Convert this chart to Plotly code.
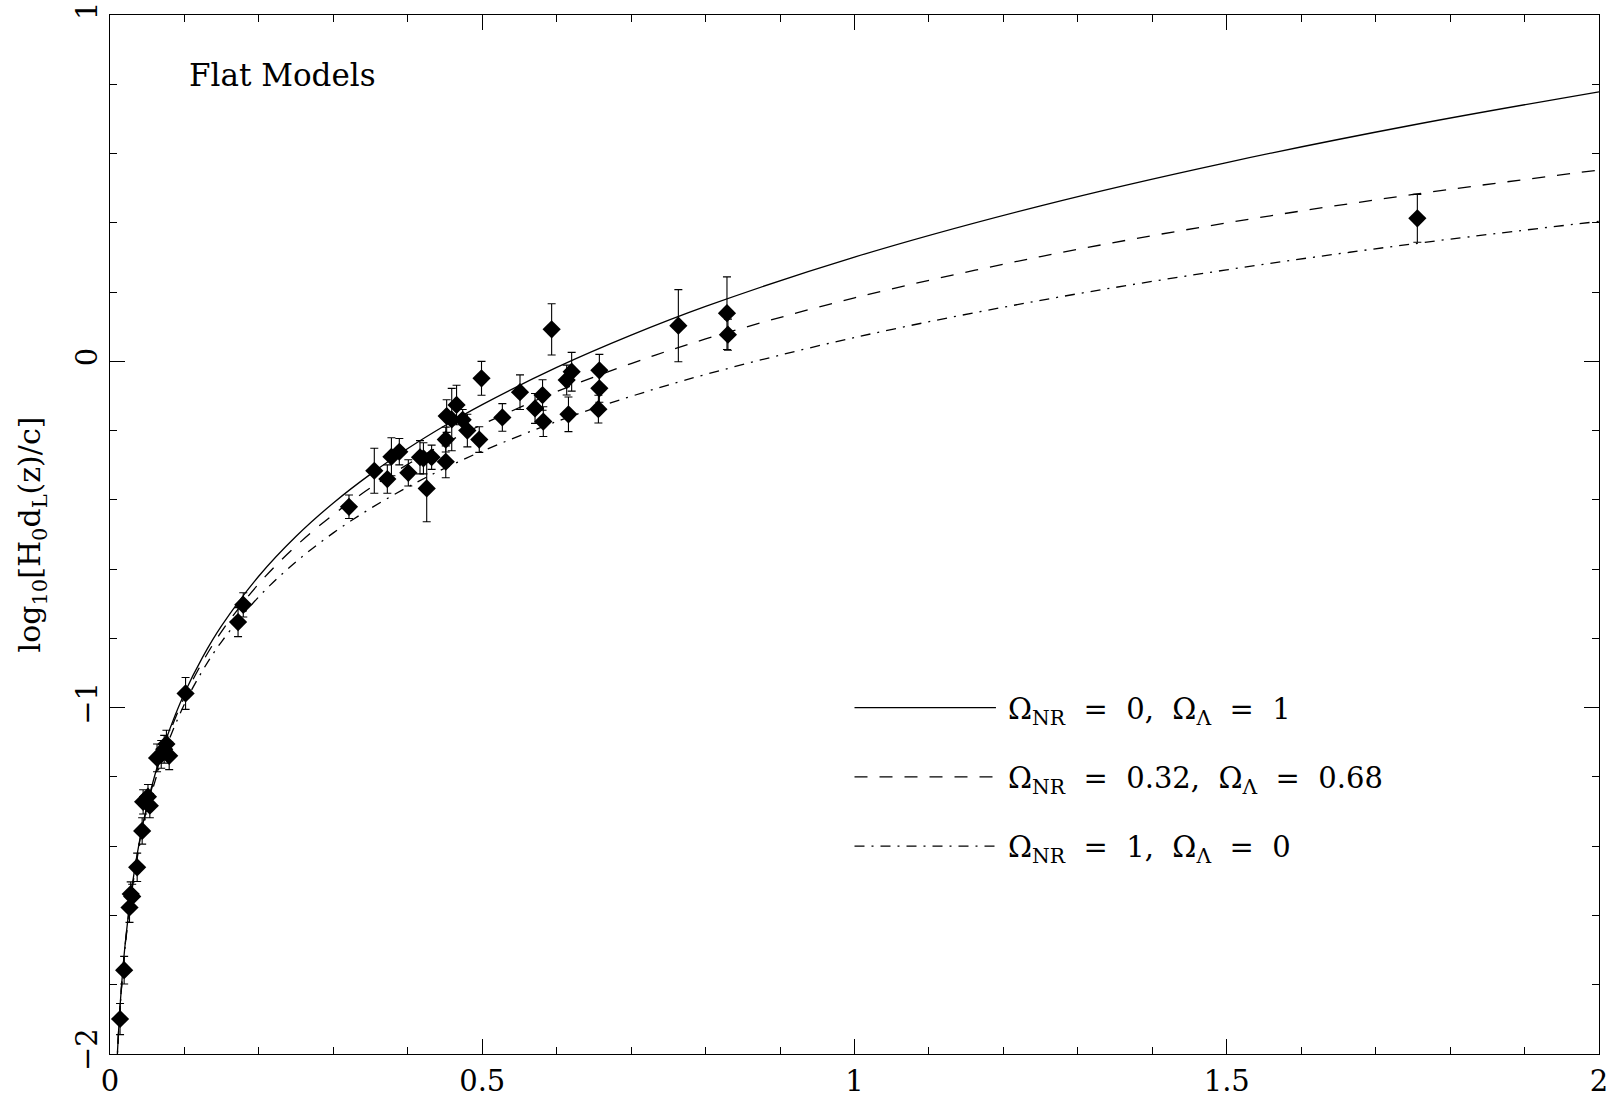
import plotly.graph_objects as go

# ---- data ----
z_sn = [0.0135, 0.0190, 0.0262, 0.0278, 0.0298, 0.0365, 0.0432, 0.0445, 0.0510, 0.0535,
        0.0632, 0.0688, 0.0728, 0.0758, 0.0795, 0.1015, 0.172, 0.179,
        0.321, 0.355, 0.3725, 0.378, 0.3886, 0.4007, 0.4164, 0.421, 0.432, 0.4254,
        0.451, 0.451, 0.4522, 0.459, 0.4655, 0.4737, 0.480, 0.496, 0.499, 0.527, 0.5507,
        0.5709, 0.581, 0.582, 0.5932, 0.6134, 0.6201, 0.6158, 0.6573, 0.6573, 0.656,
        0.7634, 0.8287, 0.830, 1.756]
logd_sn = [-1.899, -1.758, -1.577, -1.538, -1.545, -1.461, -1.356, -1.272, -1.257, -1.283,
           -1.145, -1.135, -1.120, -1.105, -1.139, -0.959, -0.753, -0.703,
           -0.420, -0.316, -0.340, -0.2755, -0.261, -0.322, -0.277, -0.280, -0.277, -0.367,
           -0.290, -0.226, -0.158, -0.168, -0.126, -0.169, -0.200, -0.226, -0.049, -0.162, -0.089,
           -0.136, -0.0973, -0.174, 0.0923, -0.054, -0.030, -0.153, -0.026, -0.078, -0.138,
           0.103, 0.139, 0.077, 0.413]
err_sn = [0.045, 0.040, 0.043, 0.035, 0.035, 0.041, 0.038, 0.035, 0.035, 0.035,
          0.040, 0.040, 0.040, 0.040, 0.040, 0.046, 0.042, 0.035,
          0.034, 0.065, 0.041, 0.055, 0.038, 0.038, 0.048, 0.045, 0.035, 0.096,
          0.046, 0.036, 0.047, 0.090, 0.057, 0.030, 0.047, 0.037, 0.049, 0.040, 0.050,
          0.043, 0.044, 0.043, 0.074, 0.043, 0.056, 0.050, 0.046, 0.040, 0.040,
          0.104, 0.105, 0.045, 0.069]

z_model = [0.009, 0.01, 0.0125, 0.015, 0.02, 0.03, 0.04, 0.05, 0.06, 0.075, 0.1, 0.125,
           0.15, 0.2, 0.25, 0.3, 0.35, 0.4, 0.45, 0.5, 0.6, 0.7, 0.8, 1.0, 1.25, 1.5, 1.75, 2.0]
y_lambda = [-2.0419, -1.9957, -1.8977, -1.8174, -1.6904, -1.5100, -1.3809, -1.2798, -1.1965,
            -1.0935, -0.9586, -0.8519, -0.7632, -0.6198, -0.5051, -0.4089, -0.3256, -0.2518,
            -0.1854, -0.1249, -0.0177, 0.0755, 0.1584, 0.3010, 0.4491, 0.5740, 0.6824, 0.7782]
y_mid = [-2.0428, -1.9967, -1.8990, -1.8190, -1.6925, -1.5132, -1.3851, -1.2851, -1.2029,
         -1.1015, -0.9693, -0.8654, -0.7795, -0.6418, -0.5329, -0.4425, -0.3651, -0.2973,
         -0.2369, -0.1825, -0.0874, -0.0063, 0.0645, 0.1833, 0.3024, 0.3997, 0.4817, 0.5524]
y_matter = [-2.0448, -1.9989, -1.9018, -1.8223, -1.6968, -1.5197, -1.3937, -1.2957, -1.2156,
            -1.1172, -0.9898, -0.8905, -0.8090, -0.6796, -0.5785, -0.4953, -0.4246, -0.3630,
            -0.3083, -0.2593, -0.1738, -0.1011, -0.0378, 0.0688, 0.1761, 0.2643, 0.3391, 0.4041]

SP = "&nbsp;"
legend_labels = [f"Ω<sub>NR</sub>{SP} ={SP} 0,{SP} Ω<sub>Λ</sub>{SP} ={SP} 1",
                 f"Ω<sub>NR</sub>{SP} ={SP} 0.32,{SP} Ω<sub>Λ</sub>{SP} ={SP} 0.68",
                 f"Ω<sub>NR</sub>{SP} ={SP} 1,{SP} Ω<sub>Λ</sub>{SP} ={SP} 0"]
legend_y = [-1.0, -1.2, -1.4]
legend_x = [1.0, 1.19]
dashes = ["solid", "13px,12px", "10px,7px,2px,7px"]
model_ys = [y_lambda, y_mid, y_matter]

x_ticks = [0, 0.5, 1, 1.5, 2]
x_ticklabels = ["0", "0.5", "1", "1.5", "2"]
y_ticks = [-2, -1, 0, 1]
y_ticklabels = ["−2", "−1", "0", "1"]

FONT = "DejaVu Serif"

fig = go.Figure()
for ys, d in zip(model_ys, dashes):
    fig.add_trace(go.Scatter(x=z_model, y=ys, mode="lines", line_shape="spline",
                             line=dict(color="black", width=1.3, dash=d),
                             showlegend=False, hoverinfo="skip"))

fig.add_trace(go.Scatter(
    x=z_sn, y=logd_sn, mode="markers",
    marker=dict(symbol="diamond", size=14, color="black"),
    error_y=dict(type="data", array=err_sn, color="black", thickness=1.1, width=4),
    showlegend=False, cliponaxis=False))

for ly, d, lab in zip(legend_y, dashes, legend_labels):
    fig.add_trace(go.Scatter(x=legend_x, y=[ly, ly], mode="lines",
                             line=dict(color="black", width=1.3, dash=d),
                             showlegend=False, hoverinfo="skip"))
    fig.add_annotation(x=1.203, y=ly, xref="x", yref="y", text=lab, showarrow=False,
                       xanchor="left", yanchor="middle", yshift=-3,
                       font=dict(family=FONT, size=29, color="black"))

fig.add_annotation(x=0.103, y=0.827, xref="x", yref="y", text="Flat Models",
                   showarrow=False, xanchor="left", yanchor="middle",
                   font=dict(family=FONT, size=31, color="black"))

axis_common = dict(showline=True, linecolor="black", linewidth=1.2, mirror="allticks",
                   ticks="inside", ticklen=15, tickwidth=1, tickcolor="black",
                   showgrid=False, zeroline=False, automargin=False,
                   tickfont=dict(family=FONT, size=29, color="black"))

fig.update_xaxes(range=[0, 2], tickvals=x_ticks, ticktext=x_ticklabels, ticklabelstandoff=1,
                 minor=dict(ticks="inside", ticklen=7, dtick=0.1, tickcolor="black", showgrid=False),
                 **axis_common)
fig.update_yaxes(range=[-2, 1], tickvals=y_ticks, ticktext=y_ticklabels, tickangle=-90,
                 minor=dict(ticks="inside", ticklen=7, dtick=0.2, tickcolor="black", showgrid=False),
                 title=dict(text="log<sub>10</sub>[H<sub>0</sub>d<sub>L</sub>(z)/c]",
                            font=dict(family=FONT, size=30, color="black"), standoff=20),
                 **axis_common)

fig.update_layout(width=1610, height=1098, plot_bgcolor="white", paper_bgcolor="white",
                  margin=dict(l=110, r=11, t=15, b=44), showlegend=False,
                  font=dict(family=FONT, color="black"))

fig.write_html("out.html")
